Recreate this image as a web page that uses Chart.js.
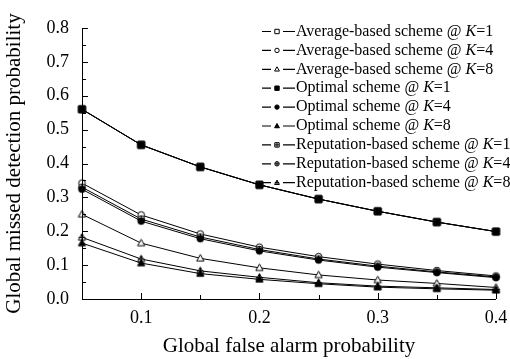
<!DOCTYPE html>
<html>
<head>
<meta charset="utf-8">
<script src="https://cdn.jsdelivr.net/npm/chart.js@4/dist/chart.umd.min.js"></script>
<style>
  html, body { margin: 0; padding: 0; background: #fff; }
  #wrap { width: 510px; height: 359px; }
</style>
</head>
<body>
<div id="wrap"><canvas id="chart" width="510" height="359"></canvas></div>
<script>
// x values (global false alarm probability)
const falseAlarm = [0.05, 0.1, 0.15, 0.2, 0.25, 0.3, 0.35, 0.4];

// global missed detection probability
const avgK1 = [0.560, 0.455, 0.390, 0.337, 0.295, 0.259, 0.227, 0.199];
const avgK4 = [0.342, 0.248, 0.192, 0.153, 0.125, 0.103, 0.084, 0.068];
const avgK8 = [0.250, 0.165, 0.120, 0.092, 0.071, 0.056, 0.046, 0.034];
const optK1 = [0.560, 0.455, 0.390, 0.337, 0.295, 0.259, 0.227, 0.199];
const optK4 = [0.324, 0.230, 0.178, 0.142, 0.115, 0.094, 0.078, 0.063];
const optK8 = [0.165, 0.106, 0.075, 0.058, 0.045, 0.035, 0.030, 0.026];
const repK1 = [0.560, 0.455, 0.390, 0.337, 0.295, 0.259, 0.227, 0.199];
const repK4 = [0.330, 0.236, 0.183, 0.146, 0.118, 0.097, 0.080, 0.065];
const repK8 = [0.182, 0.118, 0.083, 0.064, 0.048, 0.038, 0.033, 0.028];

const seriesNames = ['Average-based scheme @ ', 'Average-based scheme @ ', 'Average-based scheme @ ',
  'Optimal scheme @ ', 'Optimal scheme @ ', 'Optimal scheme @ ',
  'Reputation-based scheme @ ', 'Reputation-based scheme @ ', 'Reputation-based scheme @ '];
const seriesK = ['=1', '=4', '=8', '=1', '=4', '=8', '=1', '=4', '=8'];
const seriesData = [avgK1, avgK4, avgK8, optK1, optK4, optK8, repK1, repK4, repK8];
const markers = ['squareOpen', 'circleOpen', 'triangleOpen', 'square', 'circle', 'triangle',
  'squarePlus', 'circlePlus', 'trianglePlus'];

const FONT = '"Liberation Serif", "Times New Roman", serif';

// draws one marker shape centred at x,y
function drawMarker(ctx, kind, x, y, r) {
  ctx.save();
  ctx.lineWidth = 1;
  ctx.strokeStyle = '#000';
  const filled = !kind.endsWith('Open') && !kind.endsWith('Plus');
  ctx.fillStyle = filled ? '#000' : '#fff';
  ctx.beginPath();
  if (kind.startsWith('square')) {
    ctx.rect(x - r, y - r, 2 * r, 2 * r);
  } else if (kind.startsWith('circle')) {
    ctx.arc(x, y, r, 0, Math.PI * 2);
  } else {
    ctx.moveTo(x, y - r * 1.15);
    ctx.lineTo(x + r * 1.1, y + r * 0.8);
    ctx.lineTo(x - r * 1.1, y + r * 0.8);
    ctx.closePath();
  }
  ctx.fill();
  ctx.stroke();
  if (kind.endsWith('Plus')) {
    ctx.beginPath();
    ctx.moveTo(x - r, y); ctx.lineTo(x + r, y);
    ctx.moveTo(x, y - r); ctx.lineTo(x, y + r);
    ctx.stroke();
  }
  ctx.restore();
}

function markerCanvas(kind, r) {
  const c = document.createElement('canvas');
  const s = Math.ceil(r * 2 + 4);
  c.width = s; c.height = s;
  drawMarker(c.getContext('2d'), kind, s / 2, s / 2, r);
  return c;
}

const datasets = seriesData.map((vals, i) => ({
  label: seriesNames[i] + 'K' + seriesK[i],
  data: falseAlarm.map((x, j) => ({ x: x, y: vals[j] })),
  borderColor: '#000',
  borderWidth: 1,
  pointStyle: markerCanvas(markers[i], 3.3),
  pointRadius: 4,
  fill: false,
  clip: false,
  order: markers[i].endsWith('Open') ? 1 : 0
}));

// inward tick marks on the left and bottom axes
const inwardTicks = {
  id: 'inwardTicks',
  afterDatasetsDraw(chart) {
    const ctx = chart.ctx;
    const xs = chart.scales.x, ys = chart.scales.y;
    const a = chart.chartArea;
    ctx.save();
    ctx.strokeStyle = '#000';
    ctx.lineWidth = 1;
    ctx.beginPath();
    ctx.moveTo(a.left + 0.5, a.top);
    ctx.lineTo(a.left + 0.5, a.bottom + 0.5);
    ctx.lineTo(a.right, a.bottom + 0.5);
    xs.ticks.forEach(t => {
      const px = Math.round(xs.getPixelForValue(t.value)) + 0.5;
      const major = Math.round(t.value * 100) % 10 === 0;
      ctx.moveTo(px, a.bottom);
      ctx.lineTo(px, a.bottom - (major ? 6 : 4));
    });
    ys.ticks.forEach(t => {
      const py = Math.round(ys.getPixelForValue(t.value)) + 0.5;
      const major = Math.round(t.value * 100) % 10 === 0;
      ctx.moveTo(a.left, py);
      ctx.lineTo(a.left + (major ? 6 : 4), py);
    });
    ctx.stroke();
    ctx.restore();
  }
};

// legend with italic K, drawn inside the plot
const legendBox = {
  id: 'legendBox',
  afterDraw(chart) {
    const ctx = chart.ctx;
    const x0 = 262, y0 = 31.5, dy = 18.9;
    ctx.save();
    ctx.textBaseline = 'middle';
    ctx.fillStyle = '#000';
    seriesNames.forEach((name, i) => {
      const y = y0 + i * dy;
      ctx.strokeStyle = '#000';
      ctx.lineWidth = 1.2;
      ctx.beginPath();
      ctx.moveTo(x0, y); ctx.lineTo(x0 + 9, y);
      ctx.moveTo(x0 + 21, y); ctx.lineTo(x0 + 33, y);
      ctx.stroke();
      drawMarker(ctx, markers[i], x0 + 15, y, 2.2);
      let tx = x0 + 34;
      ctx.font = '16px ' + FONT;
      ctx.fillText(name, tx, y);
      tx += ctx.measureText(name).width;
      ctx.font = 'italic 16px ' + FONT;
      ctx.fillText('K', tx, y);
      tx += ctx.measureText('K').width;
      ctx.font = '16px ' + FONT;
      ctx.fillText(seriesK[i], tx, y);
    });
    ctx.restore();
  }
};

new Chart(document.getElementById('chart'), {
  type: 'line',
  data: { datasets: datasets },
  plugins: [inwardTicks, legendBox],
  options: {
    responsive: false,
    animation: false,
    layout: { padding: { top: 28, right: 14, left: 0, bottom: 0 } },
    plugins: { legend: { display: false }, tooltip: { enabled: false } },
    scales: {
      x: {
        type: 'linear',
        min: 0.05,
        max: 0.4,
        border: { display: false },
        grid: { display: false },
        ticks: {
          stepSize: 0.05,
          autoSkip: false,
          maxRotation: 0,
          color: '#000',
          padding: 0,
          font: { family: FONT, size: 18 },
          callback: v => (Math.round(v * 100) % 10 === 0 ? v.toFixed(1) : '')
        },
        title: {
          display: true,
          text: 'Global false alarm probability',
          color: '#000',
          font: { family: FONT, size: 21 },
          padding: { top: 2, bottom: 0 }
        },
        afterFit(scale) { scale.height = 60; }
      },
      y: {
        type: 'linear',
        min: 0,
        max: 0.8,
        border: { display: false },
        grid: { display: false },
        ticks: {
          stepSize: 0.05,
          autoSkip: false,
          color: '#000',
          padding: 5,
          font: { family: FONT, size: 18 },
          callback: v => (Math.round(v * 100) % 10 === 0 ? v.toFixed(1) : '')
        },
        title: {
          display: true,
          text: 'Global missed detection probability',
          color: '#000',
          font: { family: FONT, size: 21 },
          padding: { top: 2, bottom: 2 }
        },
        afterFit(scale) { scale.width = 82; }
      }
    }
  }
});
</script>
</body>
</html>
